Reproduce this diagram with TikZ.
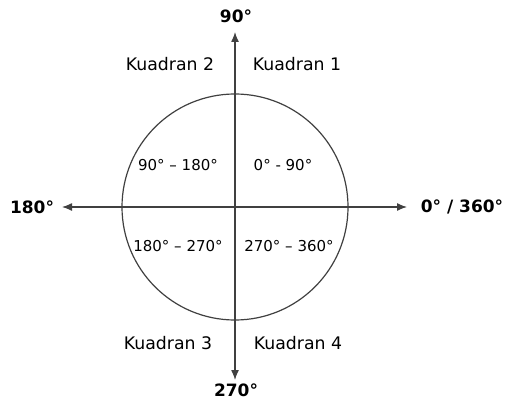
\documentclass[tikz,border=0pt]{standalone}
\usepackage{fontspec}
\setmainfont{DejaVu Sans}
\usetikzlibrary{arrows.meta}
\begin{document}
\begin{tikzpicture}[x=1pt,y=-1pt,
  axis/.style={draw=black!75,line width=1.3pt,-{Latex[length=10pt,width=8pt]}},
  circ/.style={draw=black!75,line width=1.2pt},
  lbl/.style={font=\fontsize{15}{18}\selectfont,inner sep=0pt},
  big/.style={font=\fontsize{17}{20}\selectfont\bfseries,inner sep=0pt},
  qd/.style={font=\fontsize{17.3}{20}\selectfont,inner sep=0pt}]
\useasboundingbox (0,0) rectangle (510,403);
\coordinate (O) at (235,207);
\coordinate (L) at (62,207);
\coordinate (R) at (407,207);
\coordinate (T) at (235,32);
\coordinate (B) at (235,380);
\draw[circ] (O) circle[radius=113];
\draw[axis] (O) -- (L);
\draw[axis] (O) -- (R);
\draw[axis] (O) -- (T);
\draw[axis] (O) -- (B);
\node[big] (n90) at (236,16) {90°};
\node[big] (n180) at (32,207) {180°};
\node[big] (n0) at (462,207) {0° / 360°};
\node[big] (n270) at (236,390) {270°};
\node[qd] (k2) at (170,64) {Kuadran 2};
\node[qd] (k1) at (297,64) {Kuadran 1};
\node[qd] (k3) at (168,343) {Kuadran 3};
\node[qd] (k4) at (298,343) {Kuadran 4};
\node[lbl] (q2) at (178,165) {90° – 180°};
\node[lbl] (q1) at (283,165) {0° - 90°};
\node[lbl] (q3) at (178,246) {180° – 270°};
\node[lbl] (q4) at (289,246) {270° – 360°};
\end{tikzpicture}
\end{document}
